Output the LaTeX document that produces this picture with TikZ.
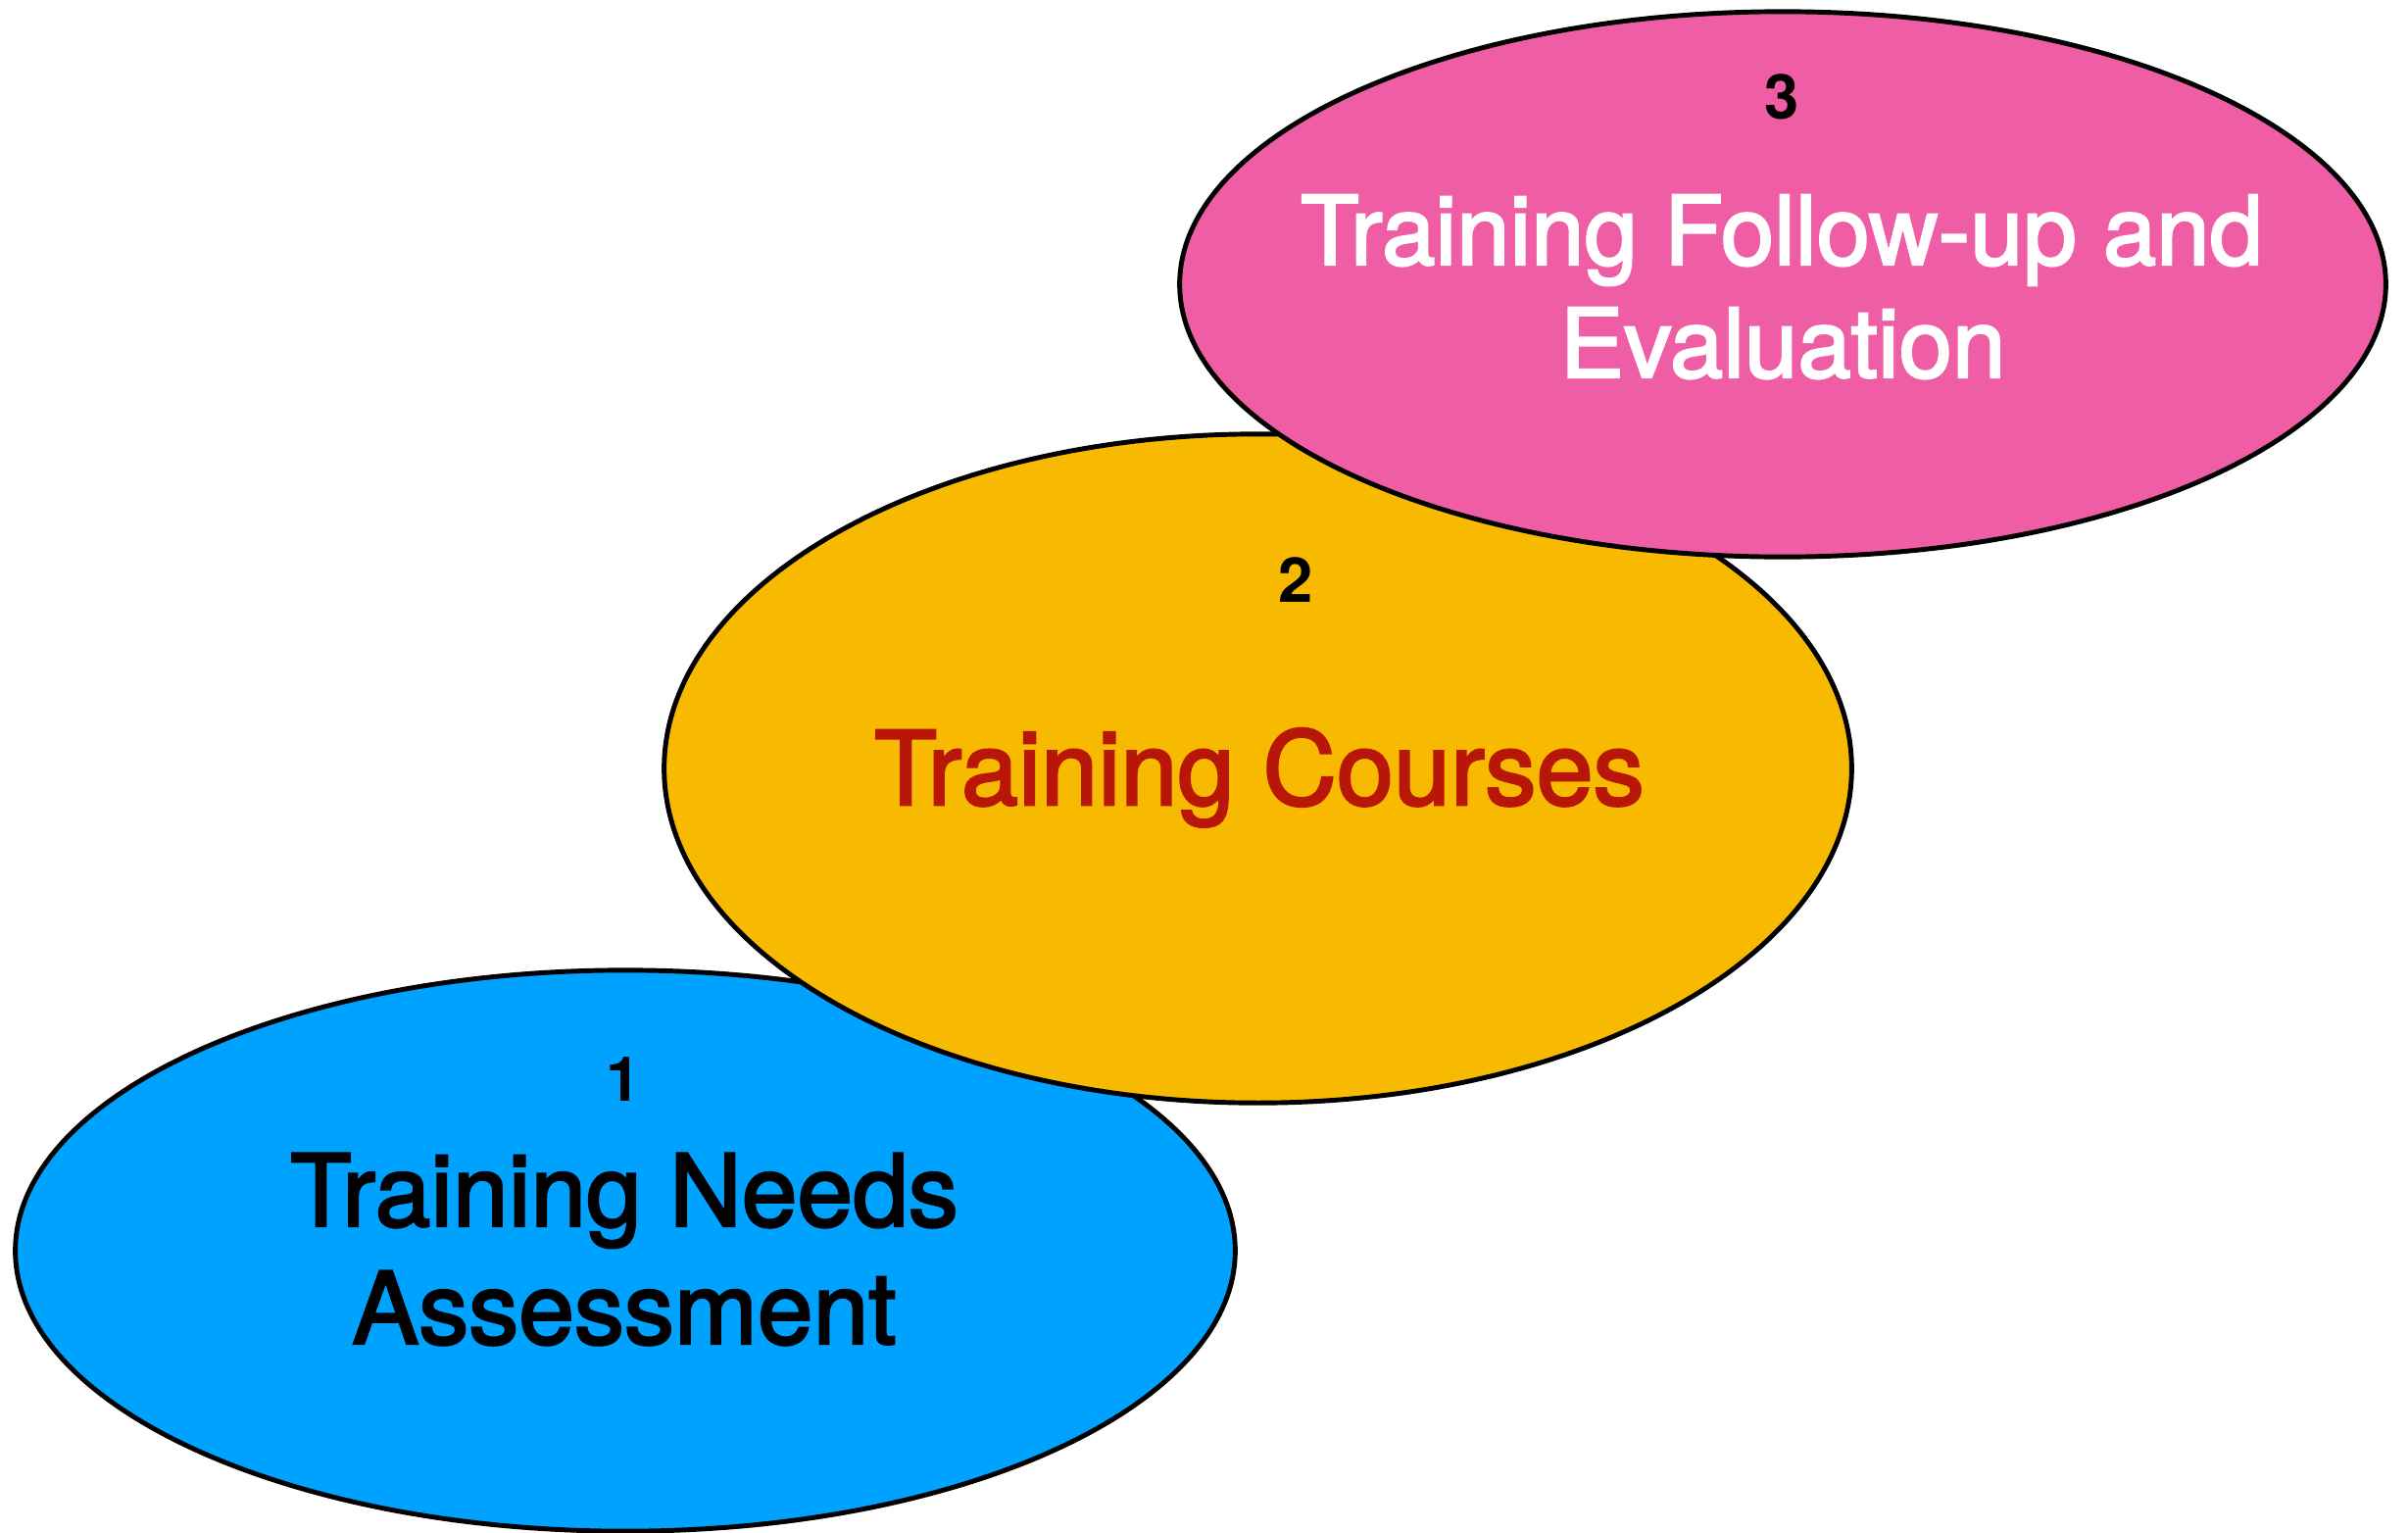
\documentclass[tikz,border=0pt]{standalone}
\usepackage{fontspec}
\setmainfont{TeX Gyre Heros}
\newfontfamily\medfont{TeX Gyre Heros}[FakeBold=2.4]
\usetikzlibrary{shapes.geometric}
\definecolor{cblue}{RGB}{0,162,255}
\definecolor{cyellow}{RGB}{247,186,0}
\definecolor{cpink}{RGB}{239,94,165}
\definecolor{cred}{RGB}{184,22,6}
\tikzset{
  blob/.style={ellipse, draw=black, line width=1.4pt, inner sep=0pt, outer sep=0pt},
  numlabel/.style={anchor=base, inner sep=0pt, font=\fontsize{18}{20}\selectfont\bfseries},
  biglabel/.style={anchor=base, inner sep=0pt},
}
\begin{document}
\begin{tikzpicture}[x=0.01cm,y=-0.01cm]
\useasboundingbox (0,0) rectangle (2457,1563);
% ellipses (back to front)
\node[blob, fill=cblue, minimum width=12.44cm, minimum height=5.72cm] (e1) at (638,1276) {};
\node[blob, fill=cyellow, minimum width=12.11cm, minimum height=6.82cm] (e2) at (1283.5,784) {};
\node[blob, fill=cpink, minimum width=12.30cm, minimum height=5.56cm] (e3) at (1819,290) {};
% labels
\node[numlabel] (n1) at (636,1123) {1};
\node[biglabel, font=\medfont\fontsize{29}{34}\selectfont] (t1a) at (637,1251) {Training Needs};
\node[biglabel, font=\medfont\fontsize{29}{34}\selectfont] (t1b) at (637,1371) {Assessment};
\node[numlabel] (n2) at (1322,614) {2};
\node[biglabel, text=cred, font=\medfont\fontsize{29.7}{34}\selectfont] (t2) at (1285,821) {Training Courses};
\node[numlabel] (n3) at (1818,121) {3};
\node[biglabel, text=white, font=\medfont\fontsize{27.8}{33}\selectfont] (t3a) at (1818,270) {Training Follow-up and};
\node[biglabel, text=white, font=\medfont\fontsize{27.8}{33}\selectfont] (t3b) at (1819,385) {Evaluation};
\end{tikzpicture}
\end{document}
